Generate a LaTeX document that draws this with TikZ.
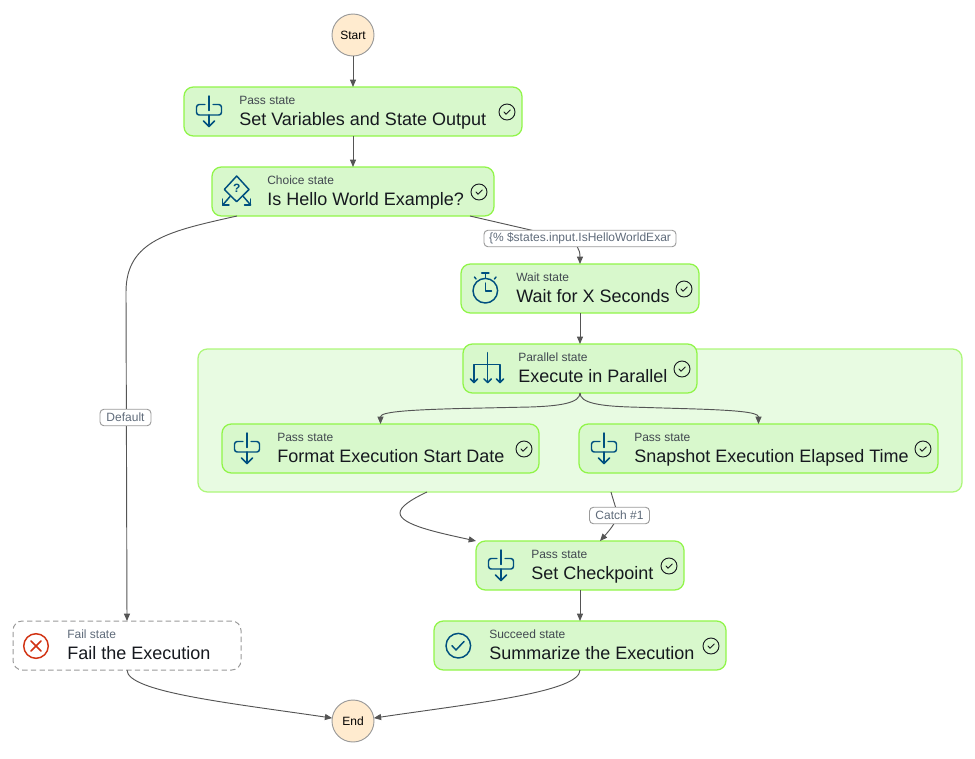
\documentclass[tikz,border=0pt]{standalone}
\usepackage{fontspec}
\setmainfont{Liberation Sans}
\usetikzlibrary{calc,arrows.meta}
\definecolor{statefill}{HTML}{D8F8CC}
\definecolor{stateline}{HTML}{90F548}
\definecolor{regionfill}{HTML}{E8FBE2}
\definecolor{regionline}{HTML}{ADF77A}
\definecolor{termfill}{HTML}{FFEBCF}
\definecolor{termline}{HTML}{9A9A9A}
\definecolor{edgegray}{HTML}{555555}
\definecolor{inktext}{HTML}{16191F}
\definecolor{subtextc}{HTML}{414750}
\definecolor{labeltext}{HTML}{5F6B7A}
\definecolor{iconblue}{HTML}{00507F}
\definecolor{failred}{HTML}{D13212}
\tikzset{
  x=0.75pt,y=-0.75pt,
  statebox/.style={draw=stateline,fill=statefill,line width=0.95pt,rounded corners=7pt,
    minimum height=36.75pt,inner sep=0pt,outer sep=0pt},
  failbox/.style={draw=termline,fill=white,line width=0.75pt,dash pattern=on 4pt off 2.5pt,rounded corners=7pt,
    minimum height=36.75pt,inner sep=0pt,outer sep=0pt},
  regionbox/.style={draw=regionline,fill=regionfill,line width=0.95pt,rounded corners=7pt,inner sep=0pt,outer sep=0pt},
  terminal/.style={circle,draw=termline,fill=termfill,line width=0.7pt,minimum size=31.5pt,inner sep=0pt,outer sep=0pt,
    text=black,font=\fontsize{9}{11}\selectfont},
  subtext/.style={anchor=base west,inner sep=0pt,text=subtextc,font=\fontsize{9}{11}\selectfont},
  failsub/.style={subtext,text=labeltext},
  titletext/.style={anchor=base west,inner sep=0pt,text=inktext,font=\fontsize{13.5}{16}\selectfont},
  edge/.style={draw=edgegray,line width=0.7pt,-{Triangle[length=5.5pt,width=4.5pt]}},
  edgelabel/.style={draw=termline,fill=white,line width=0.7pt,rounded corners=3pt,inner sep=0pt,outer sep=0pt,
    minimum height=12.4pt,text=labeltext,font=\fontsize{9}{11}\selectfont},
  iconline/.style={draw=iconblue,line width=1.1pt,line cap=round,line join=round},
  pics/passicon/.style={code={
    \draw[iconline,rounded corners=2pt] (21,-7) -- (12.5,-7) -- (12.5,3.5) -- (37.5,3.5) -- (37.5,-7) -- (29,-7);
    \draw[iconline] (25,-15.5) -- (25,-1);
    \draw[iconline] (25,3.5) -- (25,15);
    \draw[iconline] (19.5,9.5) -- (25,15) -- (30.5,9.5);
  }},
  pics/choiceicon/.style={code={
    \draw[iconline] (24.7,-15.5) -- (37,-2) -- (24.7,10.2) -- (12.3,-2) -- cycle;
    \node[inner sep=0pt,text=iconblue,font=\bfseries\fontsize{9}{10}\selectfont] (choicemark) at (24.7,-3) {?};
    \draw[iconline] (18,5) -- (10.7,13.5);
    \draw[iconline] (10.7,7.5) -- (10.7,13.5) -- (17,13.5);
    \draw[iconline] (31.3,5) -- (38.7,13.5);
    \draw[iconline] (38.7,7.5) -- (38.7,13.5) -- (32.5,13.5);
  }},
  pics/waiticon/.style={code={
    \draw[iconline] (24.3,2.2) circle[radius=12.3];
    \draw[iconline] (24.3,-10) -- (24.3,-15);
    \draw[iconline] (20.7,-15.5) -- (27.9,-15.5);
    \draw[iconline] (15,-9.5) -- (13.5,-11.5);
    \draw[iconline] (33.5,-9.5) -- (35,-11.5);
    \draw[iconline] (24.3,-5.5) -- (24.3,2.5) -- (30.5,2.5);
  }},
  pics/parallelicon/.style={code={
    \draw[iconline] (24.7,-15.8) -- (24.7,14);
    \draw[iconline] (11,14) -- (11,-4.2) -- (37,-4.2) -- (37,14);
    \foreach \px in {11,24.7,37}{
      \draw[iconline] (\px-3.7,10.3) -- (\px,14) -- (\px+3.7,10.3);
    }
  }},
  pics/succeedicon/.style={code={
    \draw[iconline] (24.3,0.2) circle[radius=12.3];
    \draw[iconline] (18,0.2) -- (22,4.5) -- (30,-4);
  }},
  pics/failicon/.style={code={
    \draw[draw=failred,line width=1.1pt] (23,0.5) circle[radius=12.3];
    \draw[draw=failred,line width=1.1pt,line cap=round] (18,-4.5) -- (28,5.5) (18,5.5) -- (28,-4.5);
  }},
  pics/doneicon/.style={code={
    \draw[draw=inktext,line width=0.7pt] (0,0) circle[radius=8];
    \draw[draw=inktext,line width=0.7pt,line cap=round,line join=round] (-3,0) -- (-1,2.2) -- (3.2,-2);
  }},
}
\def\textinset{55}
% name, centre x, centre y, width in px, box style, icon pic, type text style, type text, title
\newcommand{\statenode}[9]{%
  \node[#5,minimum width=#4*0.75pt] (#1) at (#2,#3) {};
  \pic at (#1.west) {#6};
  \node[#7] (#1-type) at ($(#1.north west)+(\textinset,17)$) {#8};
  \node[titletext] (#1-title) at ($(#1.north west)+(\textinset,38)$) {#9};
}
\newcommand{\statedone}[1]{\pic at ($(#1.north east)+(-15,25)$) {doneicon};}
\begin{document}
\begin{tikzpicture}
\useasboundingbox (0,0) rectangle (975,758);
\node[regionbox,minimum width=764*0.75pt,minimum height=143*0.75pt] (region) at (580,420.5) {};

\node[terminal] (start) at (353,35) {Start};
\node[terminal] (end) at (353,721) {End};

\statenode{setvars}{353}{111.5}{338}{statebox}{passicon}{subtext}{Pass state}{Set Variables and State Output}
\statedone{setvars}
\statenode{choice}{353}{191.5}{282}{statebox}{choiceicon}{subtext}{Choice state}{Is Hello World Example?}
\statedone{choice}
\statenode{wait}{580}{288.5}{238}{statebox}{waiticon}{subtext}{Wait state}{Wait for X Seconds}
\statedone{wait}
\statenode{parallel}{580}{368.5}{234}{statebox}{parallelicon}{subtext}{Parallel state}{Execute in Parallel}
\statedone{parallel}
\statenode{format}{380.5}{448.5}{317}{statebox}{passicon}{subtext}{Pass state}{Format Execution Start Date}
\statedone{format}
\statenode{snapshot}{758.5}{448.5}{359}{statebox}{passicon}{subtext}{Pass state}{Snapshot Execution Elapsed Time}
\statedone{snapshot}
\statenode{checkpoint}{580}{565.5}{208}{statebox}{passicon}{subtext}{Pass state}{Set Checkpoint}
\statedone{checkpoint}
\statenode{succeed}{580}{645.5}{292}{statebox}{succeedicon}{subtext}{Succeed state}{Summarize the Execution}
\statedone{succeed}
\def\textinset{54}
\statenode{fail}{127}{645.5}{228}{failbox}{failicon}{failsub}{Fail state}{Fail the Execution}

\draw[edge] (start) -- (setvars);
\draw[edge] (setvars) -- (choice);
\draw[edge] (wait) -- (parallel);
\draw[edge] (checkpoint) -- (succeed);
\draw[edge] ($(choice.south west)+(25,0)$) .. controls (170,231) and (126,240) .. (126,292) -- (fail.north);
\draw[edge] ($(choice.south east)+(-24,0)$) -- (535,231) .. controls (565,238) and (580,240) .. (wait.north);
\draw[edge] (parallel.south) .. controls (580,403) and (560,406) .. (530,407) -- (460,408.5) .. controls (405,410) and (380.5,412) .. (format.north);
\draw[edge] (parallel.south) .. controls (580,403) and (600,406) .. (630,407) -- (680,408.5) .. controls (735,410) and (758.5,412) .. (snapshot.north);
\draw[edge] ($(region.south west)+(229,0)$) .. controls (410,500) and (400,507) .. (400,513) .. controls (400,525) and (440,533) .. (checkpoint.north west);
\draw[edge] ($(region.south west)+(413,0)$) .. controls (614,503) and (617,510) .. (617,515) .. controls (617,522) and (608,532) .. ($(checkpoint.north)+(20,0)$);
\draw[edge] (fail.south) .. controls (127,692) and (230,703) .. (end.172);
\draw[edge] (succeed.south) .. controls (580,692) and (476,703) .. (end.8);

\node[edgelabel,minimum width=192*0.75pt] (condlabel) at (580,238.5) {\{\% \$states.input.IsHelloWorldExar};
\node[edgelabel,minimum width=51*0.75pt] (defaultlabel) at (125.5,417.5) {Default};
\node[edgelabel,minimum width=60*0.75pt] (catchlabel) at (619.5,515.5) {Catch \#1};
\end{tikzpicture}
\end{document}
